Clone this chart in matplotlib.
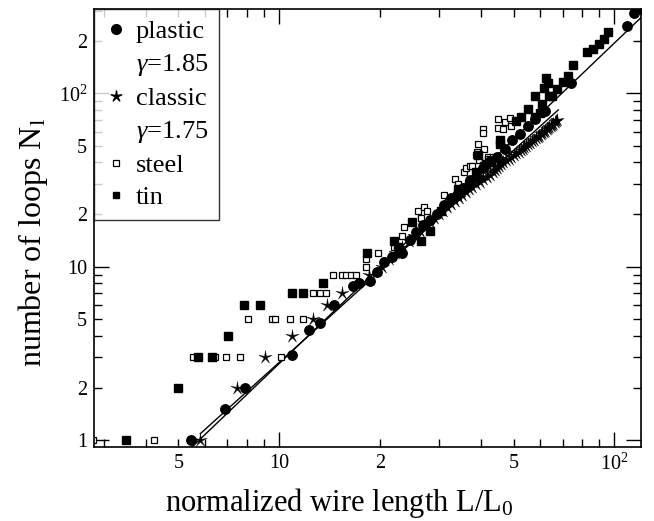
import numpy as np
import matplotlib
matplotlib.use("Agg")
import matplotlib.pyplot as plt
from matplotlib.lines import Line2D
from matplotlib.path import Path
from matplotlib.ticker import LogLocator, FuncFormatter

plt.rcParams['font.family'] = ['Liberation Serif', 'DejaVu Serif']
plt.rcParams['mathtext.fontset'] = 'custom'
plt.rcParams['mathtext.rm'] = 'Liberation Serif'
plt.rcParams['mathtext.it'] = 'Liberation Serif:italic'

# plastic wire (filled circles)
plastic_L = [5.47, 6.9, 7.92, 10.9, 12.3, 13.2, 14.6, 16.6, 17.3, 18.6, 19.6, 20.6, 21.7, 22.7, 23.3,
             24.6, 25.6, 26.9, 28.2, 29.6, 31.0, 32.5, 33.9, 35.4, 37.0, 38.9, 40.6, 42.4, 44.6, 47.1,
             49.4, 52.1, 55.2, 57.9, 61.9, 74.2, 109, 114, 119]
plastic_N = [1.0, 1.5, 2.0, 3.1, 4.3, 4.7, 6.0, 7.7, 8.0, 8.3, 9.3, 10.6, 11.3, 12.4, 12.0,
             14.2, 15.8, 17.4, 18.5, 20.1, 22.6, 24.8, 26.0, 28.5, 31.5, 33.5, 37.0, 40.5, 43.0, 48.0,
             53.5, 58.0, 65.0, 71.0, 79.0, 115, 245, 290, 307]

# classic (stars)
classic_L = [5.81, 7.47, 9.06, 10.9, 12.6, 13.9, 15.4, 18.5,
             20.3, 21.2, 22.2, 23.2, 24.3, 25.3, 26.3, 27.2, 28.1, 29.0, 29.9, 30.8, 31.6, 32.5,
             33.4, 34.3, 35.1, 36.0, 36.8, 37.7, 38.6, 39.6, 40.6, 41.6, 42.6, 43.4, 44.1, 44.7,
             45.3, 45.9, 46.6, 47.4, 48.3, 49.2, 50.1, 51.0, 51.8, 52.5, 53.2, 53.9, 54.6, 55.3,
             56.0, 56.8, 57.6, 58.4, 59.1, 59.7, 60.3, 60.9, 61.5, 62.1, 62.7, 63.3, 63.9, 64.5,
             65.1, 65.7, 66.3, 66.9, 67.5]
classic_N = [1, 2, 3, 4, 5, 6, 7, 9,
             10, 11, 12, 13, 14, 15, 16, 17, 18, 19, 20, 21, 22, 23,
             24, 25, 26, 27, 28, 29, 30, 31, 32, 33, 34, 35, 36, 37,
             38, 39, 40, 41, 42, 43, 44, 45, 46, 47, 48, 49, 50, 51,
             52, 53, 54, 55, 56, 57, 58, 59, 60, 61, 62, 63, 64, 65,
             66, 67, 68, 69, 70]

# steel (open squares)
steel_L = [2.79, 4.24, 5.53, 6.45, 6.93, 7.64, 10.1, 8.04, 9.5, 9.73, 10.78, 11.8, 12.6, 13.2, 13.8,
           14.5, 15.4, 15.8, 16.4, 16.9, 18.1, 18.2, 19.7, 22.0, 23.3, 23.6, 25.9, 27.0, 27.5, 26.5,
           31.0, 31.8, 33.5, 34.2, 35.5, 36.1, 37.0, 38.8, 39.5, 41.9, 38.6, 39.1, 40.4, 40.4, 44.9,
           44.9, 47.0, 48.8, 49.2, 46.5, 40.9, 43.4, 42.0, 37.7]
steel_N = [1, 1, 3, 3, 3, 3, 3, 5, 5, 5, 5, 5, 7, 7, 7,
           9, 9, 9, 9, 9, 10, 11, 12, 13, 15, 17, 21, 22, 21, 19,
           26, 24, 32, 30, 35, 37, 38, 46, 41, 43, 44, 51, 62, 59, 71,
           63, 68, 72, 65, 62, 48, 43, 42, 38]

# tin (filled squares)
tin_L = [3.49, 4.97, 5.73, 6.31, 7.04, 7.86, 8.78, 10.9, 11.8, 13.5, 18.3, 22.0, 22.6, 24.9, 26.5,
         28.2, 30.4, 34.1, 36.9, 38.8, 41.4, 39.1, 42.9, 45.4, 50.9, 52.7, 55.3, 58.0, 60.0, 58.0,
         60.7, 61.5, 62.5, 63.2, 64.0, 65.1, 67.6, 70.0, 72.9, 75.2, 83.0, 86.4, 89.7, 93.3, 95.4,
         45.4, 40.9, 38.6]
tin_N = [1, 2, 3, 3, 4, 6, 6, 7, 7, 8, 12, 14, 13, 18, 14,
         16, 21, 28, 30, 33, 39, 44, 40, 54, 69, 73, 81, 73, 77, 97,
         87, 107, 123, 115, 96, 97, 106, 117, 126, 145, 173, 181, 193, 207, 225,
         51, 38, 35]

# power-law guides N = c * L^gamma
gamma_plastic, c_plastic, range_plastic = 1.85, 0.039, (5.3, 125)
gamma_classic, c_classic, range_classic = 1.75, 0.0499, (5.81, 68)

# thin five-pointed star marker
ang = np.pi / 2 + np.arange(10) * np.pi / 5
rad = np.where(np.arange(10) % 2 == 0, 1.0, 0.22)
star_verts = np.column_stack([rad * np.cos(ang), rad * np.sin(ang)])
star = Path(np.vstack([star_verts, star_verts[:1]]), closed=True)

fig = plt.figure(figsize=(6.54, 5.21), dpi=100)
ax = fig.add_axes([94 / 654, 1 - 447 / 521, 547 / 654, 438 / 521])

for g, c, (l0, l1) in [(gamma_plastic, c_plastic, range_plastic),
                       (gamma_classic, c_classic, range_classic)]:
    xs = np.array([l0, l1])
    ax.plot(xs, c * xs ** g, color='black', lw=1.0, zorder=1)

ax.plot(steel_L, steel_N, ls='none', marker='s', ms=5.0, mfc='white', mec='black', mew=0.9, zorder=2)
ax.plot(tin_L, tin_N, ls='none', marker='s', ms=5.4, color='black', zorder=3)
ax.plot(classic_L, classic_N, ls='none', marker=star, ms=10, color='black', mew=0.3, zorder=4)
ax.plot(plastic_L, plastic_N, ls='none', marker='o', ms=6.8, color='black', zorder=5)

ax.set_xscale('log')
ax.set_yscale('log')
ax.set_xlim(2.8, 120)
ax.set_ylim(0.91, 307)


def fmt(v, pos):
    e = int(np.floor(np.log10(v) + 1e-9))
    m = round(v / 10 ** e)
    if m == 1:
        return {0: '1', 1: '10'}.get(e, r'$\mathregular{10^{%d}}$' % e)
    if m in (2, 5):
        return str(m)
    return ''


for axis in (ax.xaxis, ax.yaxis):
    axis.set_major_locator(LogLocator(base=10))
    axis.set_minor_locator(LogLocator(base=10, subs=np.arange(2, 10)))
    axis.set_major_formatter(FuncFormatter(fmt))
    axis.set_minor_formatter(FuncFormatter(fmt))

ax.tick_params(which='both', direction='in', top=True, right=True, labelsize=14.5, pad=5, width=1.0)
ax.tick_params(which='major', length=11)
ax.tick_params(which='minor', length=6)
for s in ax.spines.values():
    s.set_linewidth(1.2)

ax.set_xlabel(r'normalized wire length L/L$\mathregular{_0}$', fontsize=22, labelpad=8)
ax.set_ylabel(r'number of loops N$\mathregular{_l}$', fontsize=23, labelpad=6)
ax.xaxis.label.set_x(0.448)
ax.yaxis.label.set_y(0.466)

handles = [
    Line2D([], [], ls='none', marker='o', ms=7, color='black'),
    Line2D([], [], ls='none', marker=None),
    Line2D([], [], ls='none', marker=star, ms=8, color='black'),
    Line2D([], [], ls='none', marker=None),
    Line2D([], [], ls='none', marker='s', ms=4.5, mfc='white', mec='black', mew=0.9),
    Line2D([], [], ls='none', marker='s', ms=4.5, color='black'),
]
labels = ['plastic', r'$\gamma$=1.85', 'classic', r'$\gamma$=1.75', 'steel', 'tin']
leg = ax.legend(handles, labels, loc='upper left', borderaxespad=0, fontsize=19,
                frameon=True, fancybox=False, edgecolor='black', handlelength=0.84,
                handletextpad=0.34, labelspacing=0.33, borderpad=0.4)
leg.get_frame().set_linewidth(1.0)

fig.savefig('out.png', dpi=100)
